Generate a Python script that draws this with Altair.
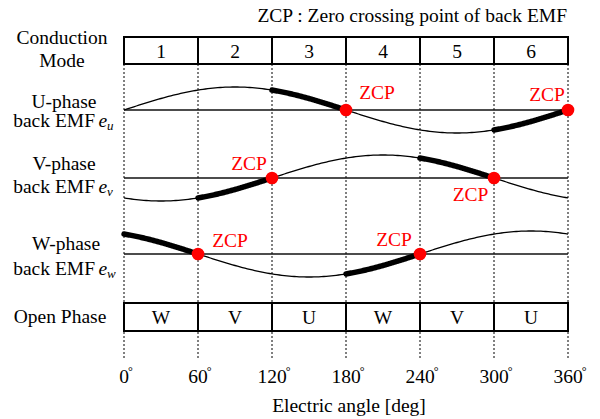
import numpy as np
import pandas as pd
import altair as alt

# ---------------- data ----------------
modes = ["1", "2", "3", "4", "5", "6"]
open_phases = ["W", "V", "U", "W", "V", "U"]
boundaries = [0, 60, 120, 180, 240, 300, 360]
tick_labels = ["0", "60", "120", "180", "240", "300", "360"]
phases = ["U", "V", "W"]
phase_shift = [0, -120, 120]            # electrical phase of each back EMF (deg)
bold_start = {"U": [120, 300], "V": [60, 240], "W": [0, 180]}   # open-phase intervals (60 deg long)
zcp_angle = {"U": [180, 360], "V": [120, 300], "W": [60, 240]}

# ---------------- layout ----------------
FONT = "Liberation Serif"
FS = 19.5
X = alt.Scale(domain=[0, 360], range=[124, 568], nice=False, zero=False)
Y = alt.Scale(domain=[0, 419], range=[0, 419], nice=False, zero=False)
PX_PER_DEG = 444 / 360


def px2deg(px):
    return (px - 124) / PX_PER_DEG


row_center = {"U": 110, "V": 178, "W": 254}
AMP = 23
MODE_TOP, MODE_BOT = 37, 64
OPEN_TOP, OPEN_BOT = 303, 331

# curves
rows = []
for ph, sh in zip(phases, phase_shift):
    for a in range(0, 361, 2):
        e = np.sin(np.radians(a + sh))
        rows.append({"phase": ph, "x": a, "y": row_center[ph] - AMP * e})
curve_df = pd.DataFrame(rows)

brows = []
for ph, sh in zip(phases, phase_shift):
    for s in bold_start[ph]:
        for a in np.arange(s, s + 60.01, 1.0):
            e = np.sin(np.radians(a + sh))
            brows.append({"seg": f"{ph}{s}", "x": a, "y": row_center[ph] - AMP * e})
bold_df = pd.DataFrame(brows)

zrows = []
for ph in phases:
    for a in zcp_angle[ph]:
        zrows.append({"x": a, "y": row_center[ph]})
zcp_df = pd.DataFrame(zrows)

axis_df = pd.DataFrame({"x": [0] * 3, "x2": [360] * 3, "y": [row_center[p] for p in phases]})

dots_df = pd.DataFrame({"x": boundaries, "y": [MODE_BOT] * 7, "y2": [359] * 7})

cells_mode = pd.DataFrame({"x": boundaries[:-1], "x2": boundaries[1:],
                           "y": [MODE_TOP] * 6, "y2": [MODE_BOT] * 6})
cells_open = pd.DataFrame({"x": boundaries[:-1], "x2": boundaries[1:],
                           "y": [OPEN_TOP] * 6, "y2": [OPEN_BOT] * 6})

mids = [(a + b) / 2 for a, b in zip(boundaries[:-1], boundaries[1:])]
mode_txt = pd.DataFrame({"t": modes, "x": mids, "y": [58] * 6})
open_txt = pd.DataFrame({"t": open_phases, "x": mids, "y": [323.5] * 6})

tick_txt = pd.DataFrame({"t": tick_labels, "x": boundaries, "y": [383] * 7})
deg_txt = pd.DataFrame({"t": ["°"] * 7,
                        "x": [b + (len(t) * 4.875 - 1) / PX_PER_DEG for b, t in zip(boundaries, tick_labels)],
                        "y": [375] * 7})

left_center = pd.DataFrame({
    "t": ["Conduction", "Mode", "U-phase", "V-phase", "W-phase", "Open Phase"],
    "x": [px2deg(62), px2deg(62), px2deg(64), px2deg(64), px2deg(66), px2deg(60)],
    "y": [44, 66.5, 108, 170, 250, 323],
})
back_txt = pd.DataFrame({"t": ["back EMF"] * 3, "x": [px2deg(95)] * 3, "y": [127, 193, 275]})
e_txt = pd.DataFrame({"t": ["e"] * 3, "x": [px2deg(98.5)] * 3, "y": [127, 193, 275]})
sub_txt = pd.DataFrame({"t": ["u", "v", "w"], "x": [px2deg(107)] * 3, "y": [130, 196, 278]})

zcp_lbl = pd.DataFrame({
    "t": ["ZCP"] * 6,
    "x": [px2deg(377), px2deg(547), px2deg(249), px2deg(470.5), px2deg(230), px2deg(394)],
    "y": [99, 101, 170, 201, 246.5, 246],
})
title_txt = pd.DataFrame({"t": ["ZCP : Zero crossing point of back EMF"], "x": [px2deg(567)], "y": [22]})
xtitle_txt = pd.DataFrame({"t": ["Electric angle [deg]"], "x": [px2deg(349)], "y": [412]})


def txt(df, align="center", size=FS, color="black", italic=False):
    kw = dict(align=align, baseline="alphabetic", fontSize=size, font=FONT, color=color)
    if italic:
        kw["fontStyle"] = "italic"
    return alt.Chart(df).mark_text(**kw).encode(
        x=alt.X("x:Q", scale=X, axis=None), y=alt.Y("y:Q", scale=Y, axis=None), text="t:N")


dots = alt.Chart(dots_df).mark_rule(color="black", strokeWidth=1, strokeDash=[2, 2]).encode(
    x=alt.X("x:Q", scale=X, axis=None), y=alt.Y("y:Q", scale=Y, axis=None), y2="y2:Q")

rect_mode = alt.Chart(cells_mode).mark_rect(fill="white", stroke="black", strokeWidth=2).encode(
    x=alt.X("x:Q", scale=X, axis=None), x2="x2:Q", y=alt.Y("y:Q", scale=Y, axis=None), y2="y2:Q")
rect_open = alt.Chart(cells_open).mark_rect(fill="white", stroke="black", strokeWidth=2).encode(
    x=alt.X("x:Q", scale=X, axis=None), x2="x2:Q", y=alt.Y("y:Q", scale=Y, axis=None), y2="y2:Q")

axes = alt.Chart(axis_df).mark_rule(color="#111111", strokeWidth=1.3).encode(
    x=alt.X("x:Q", scale=X, axis=None), x2="x2:Q", y=alt.Y("y:Q", scale=Y, axis=None))

thin = alt.Chart(curve_df).mark_line(color="black", strokeWidth=1.3).encode(
    x=alt.X("x:Q", scale=X, axis=None), y=alt.Y("y:Q", scale=Y, axis=None), detail="phase:N")

bold = alt.Chart(bold_df).mark_line(color="black", strokeWidth=5.5, strokeCap="round").encode(
    x=alt.X("x:Q", scale=X, axis=None), y=alt.Y("y:Q", scale=Y, axis=None), detail="seg:N")

pts = alt.Chart(zcp_df).mark_circle(color="#ff0000", size=160, opacity=1).encode(
    x=alt.X("x:Q", scale=X, axis=None), y=alt.Y("y:Q", scale=Y, axis=None))

chart = alt.layer(
    dots, rect_mode, rect_open, axes, thin, bold, pts,
    txt(mode_txt), txt(open_txt), txt(tick_txt), txt(deg_txt, align="left", size=12),
    txt(left_center), txt(back_txt, align="right"), txt(e_txt, align="left", italic=True),
    txt(sub_txt, align="left", size=13, italic=True),
    txt(zcp_lbl, color="#ff0000"), txt(title_txt, align="right"), txt(xtitle_txt),
).properties(
    width=600, height=419, padding=0, autosize=alt.AutoSizeParams(type="none"), background="white"
).configure_view(stroke=None)

chart.save("out.html", embed_options={"renderer": "svg", "actions": False})
